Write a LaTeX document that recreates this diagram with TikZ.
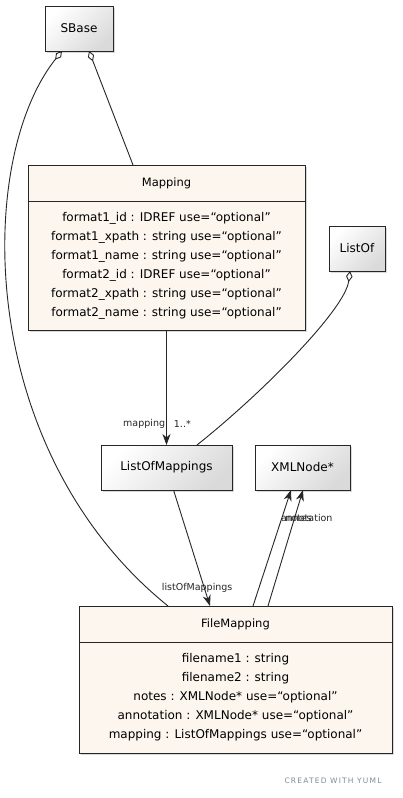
\documentclass[tikz,border=0pt]{standalone}
\usepackage{fontspec}
\setmainfont{DejaVu Sans}
\usepackage{tikz}
\usetikzlibrary{arrows.meta, positioning, shadows, calc}

\definecolor{classfill}{HTML}{FCF6EF}
\definecolor{boxgray}{HTML}{DADADA}
\definecolor{yumlgray}{HTML}{7D8B99}

\begin{document}
\begin{tikzpicture}[
  x=1pt, y=-1pt,
  shade box/.style={drop shadow={shadow xshift=2pt, shadow yshift=-2pt, opacity=0.3}},
  simple/.style={draw=black!85, line width=0.8pt, outer sep=0pt, shade box,
                 top color=white, bottom color=boxgray, shading angle=45,
                 font=\fontsize{12}{14}\selectfont, minimum height=45pt},
  classhead/.style={draw=black!85, line width=0.8pt, outer sep=0pt, shade box,
                    fill=classfill, font=\fontsize{11.5}{14}\selectfont, minimum height=36pt},
  classbody/.style={draw=black!85, line width=0.8pt, outer sep=0pt, shade box,
                    fill=classfill, align=center, font=\fontsize{12}{19}\selectfont},
  arr/.style={-{Stealth[length=11pt, width=8pt, inset=3.5pt]}, line width=0.9pt, black!85},
  assoc/.style={{Diamond[open, length=11pt, width=6.5pt]}-, line width=0.9pt, black!85},
  lbl/.style={font=\fontsize{9.5}{11}\selectfont, inner sep=1pt},
]
  \path[use as bounding box, fill=white] (0,0) rectangle (403,798);

  \node[simple, minimum width=68pt] (sb) at (79,28.5) {SBase};
  \node[simple, minimum width=56pt] (lo) at (357,248.5) {ListOf};
  \node[simple, minimum width=131pt] (lom) at (166.5,467.5) {ListOfMappings};
  \node[simple, minimum width=95pt] (xml) at (302.5,467.5) {XMLNode*};

  % Mapping class
  \node[classhead, minimum width=277pt] (maph) at (166.5,183) {Mapping};
  \node[classbody, minimum width=277pt, minimum height=129pt, below=0pt of maph] (mapb)
    {format1\_id : IDREF use=“optional”\\
     format1\_xpath : string use=“optional”\\
     format1\_name : string use=“optional”\\
     format2\_id : IDREF use=“optional”\\
     format2\_xpath : string use=“optional”\\
     format2\_name : string use=“optional”};

  % FileMapping class
  \node[classhead, minimum width=313pt] (fmh) at (235.5,624) {FileMapping};
  \node[classbody, minimum width=313pt, minimum height=111pt, below=0pt of fmh] (fmb)
    {filename1 : string\\
     filename2 : string\\
     notes : XMLNode* use=“optional”\\
     annotation : XMLNode* use=“optional”\\
     mapping : ListOfMappings use=“optional”};

  \draw[assoc] ([xshift=-17pt]sb.south) .. controls (-25,160) and (-25,450) .. ([xshift=-67.5pt]fmh.north);
  \draw[assoc] ([xshift=10pt]sb.south) -- ([xshift=-33.5pt]maph.north);
  \draw[assoc] ([xshift=-7pt]lo.south) .. controls (345,310) and (260,395) .. ([xshift=30.5pt]lom.north);

  \draw[arr] (mapb) -- (lom)
    node[lbl, pos=0.82, anchor=east] {mapping}
    node[lbl, pos=0.82, anchor=west, xshift=6pt] {1..*};
  \draw[arr] ([xshift=7pt]lom.south) -- ([xshift=-25.5pt]fmh.north)
    node[lbl, pos=0.84, xshift=-7pt] {listOfMappings};
  \draw[arr] ([xshift=17.5pt]fmh.north) -- ([xshift=-11.5pt]xml.south)
    node[lbl, pos=0.76, anchor=west, xshift=2pt] {notes};
  \draw[arr] ([xshift=32.5pt]fmh.north) -- ([xshift=0.5pt]xml.south)
    node[lbl, pos=0.76, anchor=west, xshift=-15pt] {annotation};

  \node[font=\fontsize{7.5}{9}\selectfont\addfontfeatures{LetterSpace=16}, text=yumlgray] (credit) at (333,781) {CREATED WITH YUML};
\end{tikzpicture}
\end{document}
